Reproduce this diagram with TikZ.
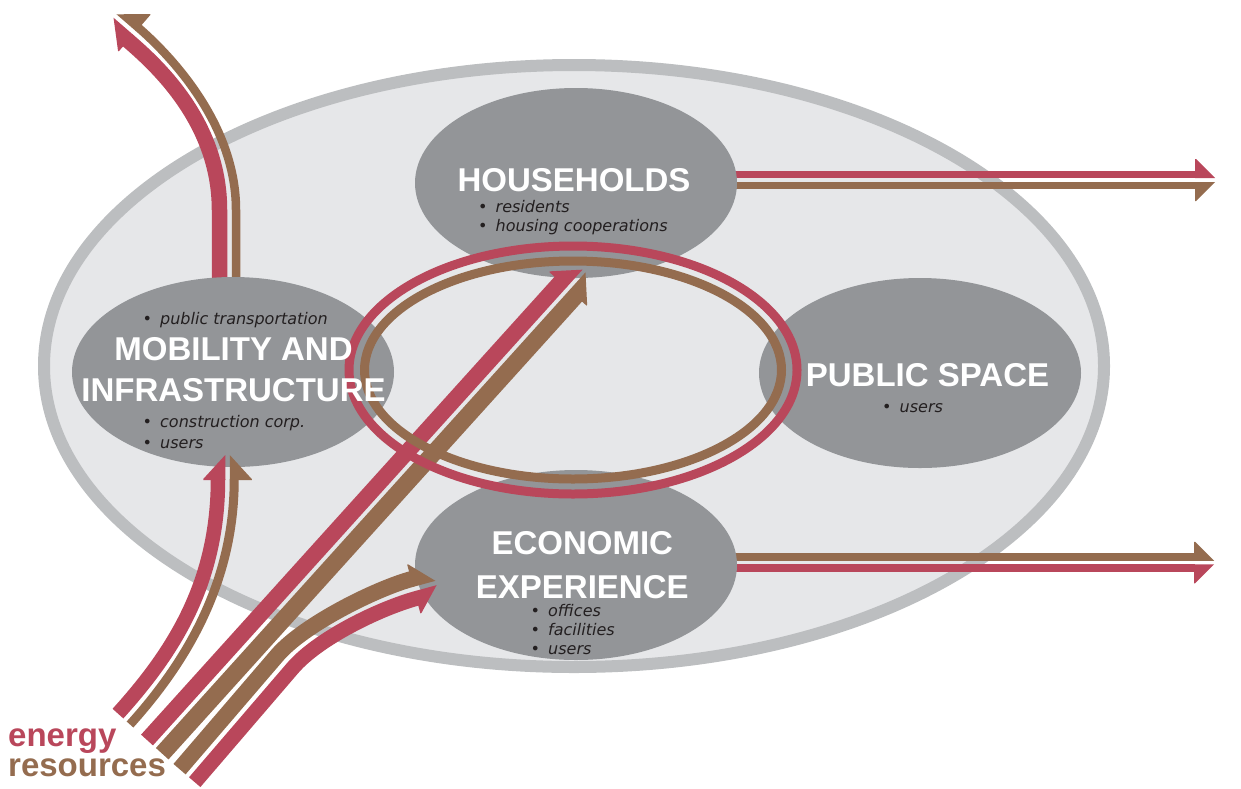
\documentclass[tikz,border=0pt]{standalone}
\usepackage{fontspec}
\setmainfont{Liberation Sans}
\newfontfamily\bulfont{DejaVu Sans}
\usetikzlibrary{arrows.meta,shapes.geometric}
\definecolor{cred}{HTML}{B9475B}
\definecolor{cbrown}{HTML}{946C4F}
\definecolor{cgray}{HTML}{939598}
\definecolor{clight}{HTML}{E6E7E9}
\definecolor{cborder}{HTML}{BCBEC0}
\definecolor{ctext}{HTML}{231F20}
% half arrow heads: barb on the left (L) or right (R); tip on the inner edge of the band
\newcommand\DefHalfL[3]{%
\pgfdeclarearrow{
  name = #1,
  parameters = {\the\pgflinewidth},
  setup code = {
    \pgfarrowssettipend{0pt}
    \pgfarrowssetlineend{-#2pt}
    \pgfarrowssetbackend{-#2pt}
    \pgfarrowshullpoint{0pt}{0pt}
  },
  drawing code = {
    \pgfpathmoveto{\pgfpoint{0pt}{-0.5*\pgflinewidth}}
    \pgfpathlineto{\pgfpoint{-#2pt}{#3pt-0.5*\pgflinewidth}}
    \pgfpathlineto{\pgfpoint{-#2pt-1pt}{#3pt-0.5*\pgflinewidth}}
    \pgfpathlineto{\pgfpoint{-#2pt-1pt}{-0.5*\pgflinewidth}}
    \pgfpathclose
    \pgfusepathqfill
  }
}}
\newcommand\DefHalfR[3]{%
\pgfdeclarearrow{
  name = #1,
  parameters = {\the\pgflinewidth},
  setup code = {
    \pgfarrowssettipend{0pt}
    \pgfarrowssetlineend{-#2pt}
    \pgfarrowssetbackend{-#2pt}
    \pgfarrowshullpoint{0pt}{0pt}
  },
  drawing code = {
    \pgfpathmoveto{\pgfpoint{0pt}{0.5*\pgflinewidth}}
    \pgfpathlineto{\pgfpoint{-#2pt}{0.5*\pgflinewidth-#3pt}}
    \pgfpathlineto{\pgfpoint{-#2pt-1pt}{0.5*\pgflinewidth-#3pt}}
    \pgfpathlineto{\pgfpoint{-#2pt-1pt}{0.5*\pgflinewidth}}
    \pgfpathclose
    \pgfusepathqfill
  }
}}
\DefHalfL{HLa}{25}{22}\DefHalfR{HRa}{25}{22}
\DefHalfL{HLb}{19}{19}\DefHalfR{HRb}{19}{19}
\DefHalfL{HLd}{23}{23}\DefHalfR{HRd}{23}{23}
\DefHalfL{HLe}{24}{22}\DefHalfR{HRe}{24}{22}
\DefHalfL{HLf}{22}{23}\DefHalfR{HRf}{22}{23}
\newcommand\bl{\makebox[17.5pt][l]{•}}
\tikzset{
  subarea/.style={ellipse, fill=cgray, inner sep=0pt, outer sep=0pt, minimum width=322pt, minimum height=190pt},
  heading/.style={text=white, font=\fontsize{33}{38}\selectfont\bfseries, inner sep=0pt, anchor=base},
  bullet/.style={text=ctext, font=\bulfont\itshape\fontsize{16}{18}\selectfont, inner sep=0pt, anchor=base west},
  rband/.style={color=cred, line width=#1},
  bband/.style={color=cbrown, line width=#1},
  ring/.style={ellipse, inner sep=0pt, line width=9pt},
  label/.style={font=\fontsize{33}{38}\selectfont\bfseries, inner sep=0pt, anchor=base west},
}
\begin{document}
\begin{tikzpicture}[x=1pt,y=-1pt]
\useasboundingbox (0,0) rectangle (1241,788);
% outer area
\node[ellipse, draw=cborder, fill=clight, line width=12pt, inner sep=0pt,
      minimum width=1060pt, minimum height=602pt] (world) at (574,366) {};
% outgoing flows (start under the areas)
\coordinate (a0r) at (219.5,290); \coordinate (a1r) at (108.45,23.56);
\coordinate (a0b) at (236,290);   \coordinate (a1b) at (119.26,11.09);
\draw[rband=15.5pt, -{HLa}] (a0r) -- (219.5,210) .. controls (219.5,120) and (153.45,62.56) .. (a1r);
\draw[bband=8.5pt, -{HRa}] (a0b) -- (236,210) .. controls (236,120) and (164.26,50.09) .. (a1b);
\coordinate (b0r) at (730,174.5); \coordinate (b1r) at (1215,174.5);
\coordinate (b0b) at (730,185.5); \coordinate (b1b) at (1215,185.5);
\draw[rband=7pt, -{HLb}] (b0r) -- (b1r);
\draw[bband=7pt, -{HRb}] (b0b) -- (b1b);
\coordinate (c0b) at (730,557); \coordinate (c1b) at (1214,557);
\coordinate (c0r) at (730,568); \coordinate (c1r) at (1214,568);
\draw[bband=7.5pt, -{HLb}] (c0b) -- (c1b);
\draw[rband=7.5pt, -{HRb}] (c0r) -- (c1r);
% areas
\node[subarea] (hh)  at (576,183) {};
\node[subarea] (mob) at (233,372) {};
\node[subarea] (ps)  at (920,373) {};
\node[subarea] (eco) at (576,565) {};
% incoming energy flows
\coordinate (d0r) at (147,740);     \coordinate (d1r) at (576.58,264.3);
\coordinate (d0b) at (162.2,753.7); \coordinate (d1b) at (591.79,278.04);
\draw[rband=16pt, -{HLd}] (d0r) -- (d1r);
\draw[bband=17pt, -{HRd}] (d0b) -- (d1b);
\coordinate (e0r) at (117.95,713.6); \coordinate (e1r) at (218,455);
\coordinate (e0b) at (130.0,724.5);  \coordinate (e1b) at (234.25,455);
\draw[rband=14.5pt, -{HLe}] (e0r) .. controls (171.55,654.2) and (218,585) .. (e1r);
\draw[bband=9pt, -{HRe}] (e0b) .. controls (183.6,665.1) and (234.25,585) .. (e1b);
\coordinate (f0b) at (179.52,769.13); \coordinate (f1b) at (433.32,573.11);
\coordinate (f0r) at (194.7,782.15);  \coordinate (f1r) at (438.54,592.41);
\draw[bband=16pt, -{HLf}] (f0b) -- (277.22,655.33) .. controls (303.22,624.93) and (375.42,588.81) .. (f1b);
\draw[rband=15pt, -{HRf}] (f0r) -- (292.4,668.35) .. controls (318.4,637.95) and (380.64,608.11) .. (f1r);
% exchange ring
\node[ring, draw=cred, minimum width=448pt, minimum height=248pt] (ringr) at (573,370) {};
\node[ring, draw=cbrown, minimum width=417pt, minimum height=218pt] (ringb) at (573,370) {};
% headings
\node[heading] (thh)   at (574,191)   {HOUSEHOLDS};
\node[heading] (tmob1) at (233.5,360.7) {MOBILITY AND};
\node[heading] (tmob2) at (233.5,401.7) {INFRASTRUCTURE};
\node[heading] (tps)   at (927.5,386) {PUBLIC SPACE};
\node[heading] (teco1) at (582.3,554) {ECONOMIC};
\node[heading] (teco2) at (582.3,598) {EXPERIENCE};
% bullets
\node[bullet] (m1) at (142.5,324.3) {\bl public transportation};
\node[bullet] (m2) at (142.5,427.3) {\bl construction corp.};
\node[bullet] (m3) at (142.5,448.3) {\bl users};
\node[bullet] (h1) at (478,212.7) {\bl residents};
\node[bullet] (h2) at (478,231) {\bl housing cooperations};
\node[bullet] (p1) at (882,412) {\bl users};
\node[bullet] (e1) at (530.5,616.7) {\bl offices};
\node[bullet] (e2) at (530.5,635.7) {\bl facilities};
\node[bullet] (e3) at (530.5,654) {\bl users};
% legend
\node[label, text=cred]   (ten)  at (8,746) {energy};
\node[label, text=cbrown] (tres) at (8,776)   {resources};
\end{tikzpicture}
\end{document}
